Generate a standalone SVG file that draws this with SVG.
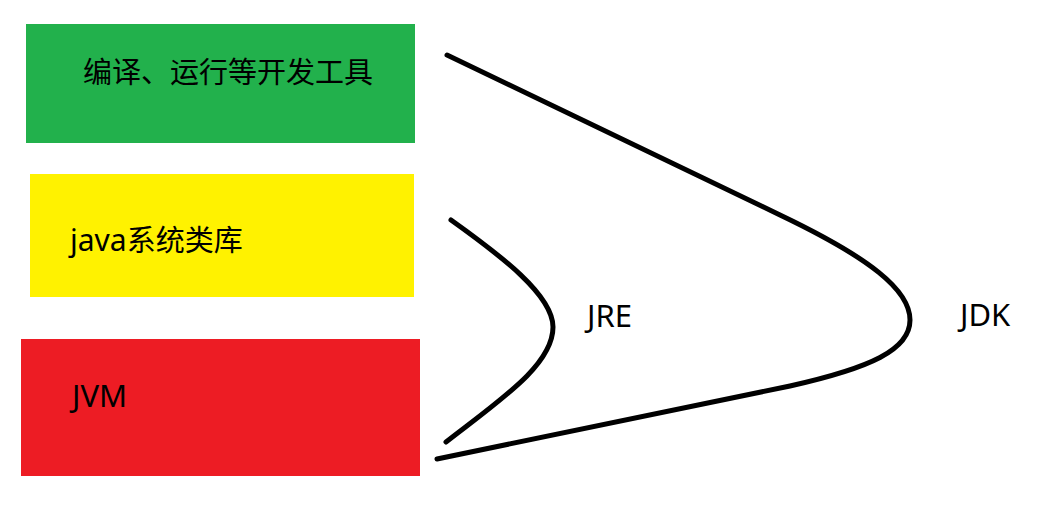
<svg xmlns="http://www.w3.org/2000/svg" width="1045" height="510" viewBox="0 0 1045 510">
<style>
text{font-family:"Noto Sans","Noto Sans CJK SC",sans-serif;font-size:31px;fill:#000}
.cjk{font-size:29px}
.c{fill:none;stroke:#000;stroke-width:5;stroke-linecap:round;stroke-linejoin:round}
</style>
<rect x="0" y="0" width="1045" height="510" fill="#fff"/>
<g id="tools">
<rect x="26" y="24" width="389" height="119" fill="#22b14c"/>
<text class="cjk" x="83" y="83">编译、运行等开发工具</text>
</g>
<g id="javalib">
<rect x="30" y="174" width="384" height="123" fill="#fff200"/>
<text x="70" y="251"><tspan style="font-size:30px">java</tspan><tspan class="cjk">系统类库</tspan></text>
</g>
<g id="jvm">
<rect x="21" y="339" width="399" height="137" fill="#ed1c24"/>
<text x="72" y="407">JVM</text>
</g>
<g id="connectors">
<path class="c" d="M451,220 C500,255 553,295 553,327 C553,365 500,400 446,442"/>
<path class="c" d="M447,55 L780,215 C870,258 910,290 910,320 C910,350 870,368 790,386 L437,459"/>
</g>
<g id="jre"><text x="587" y="327">JRE</text></g>
<g id="jdk"><text x="960" y="326">JDK</text></g>
</svg>
